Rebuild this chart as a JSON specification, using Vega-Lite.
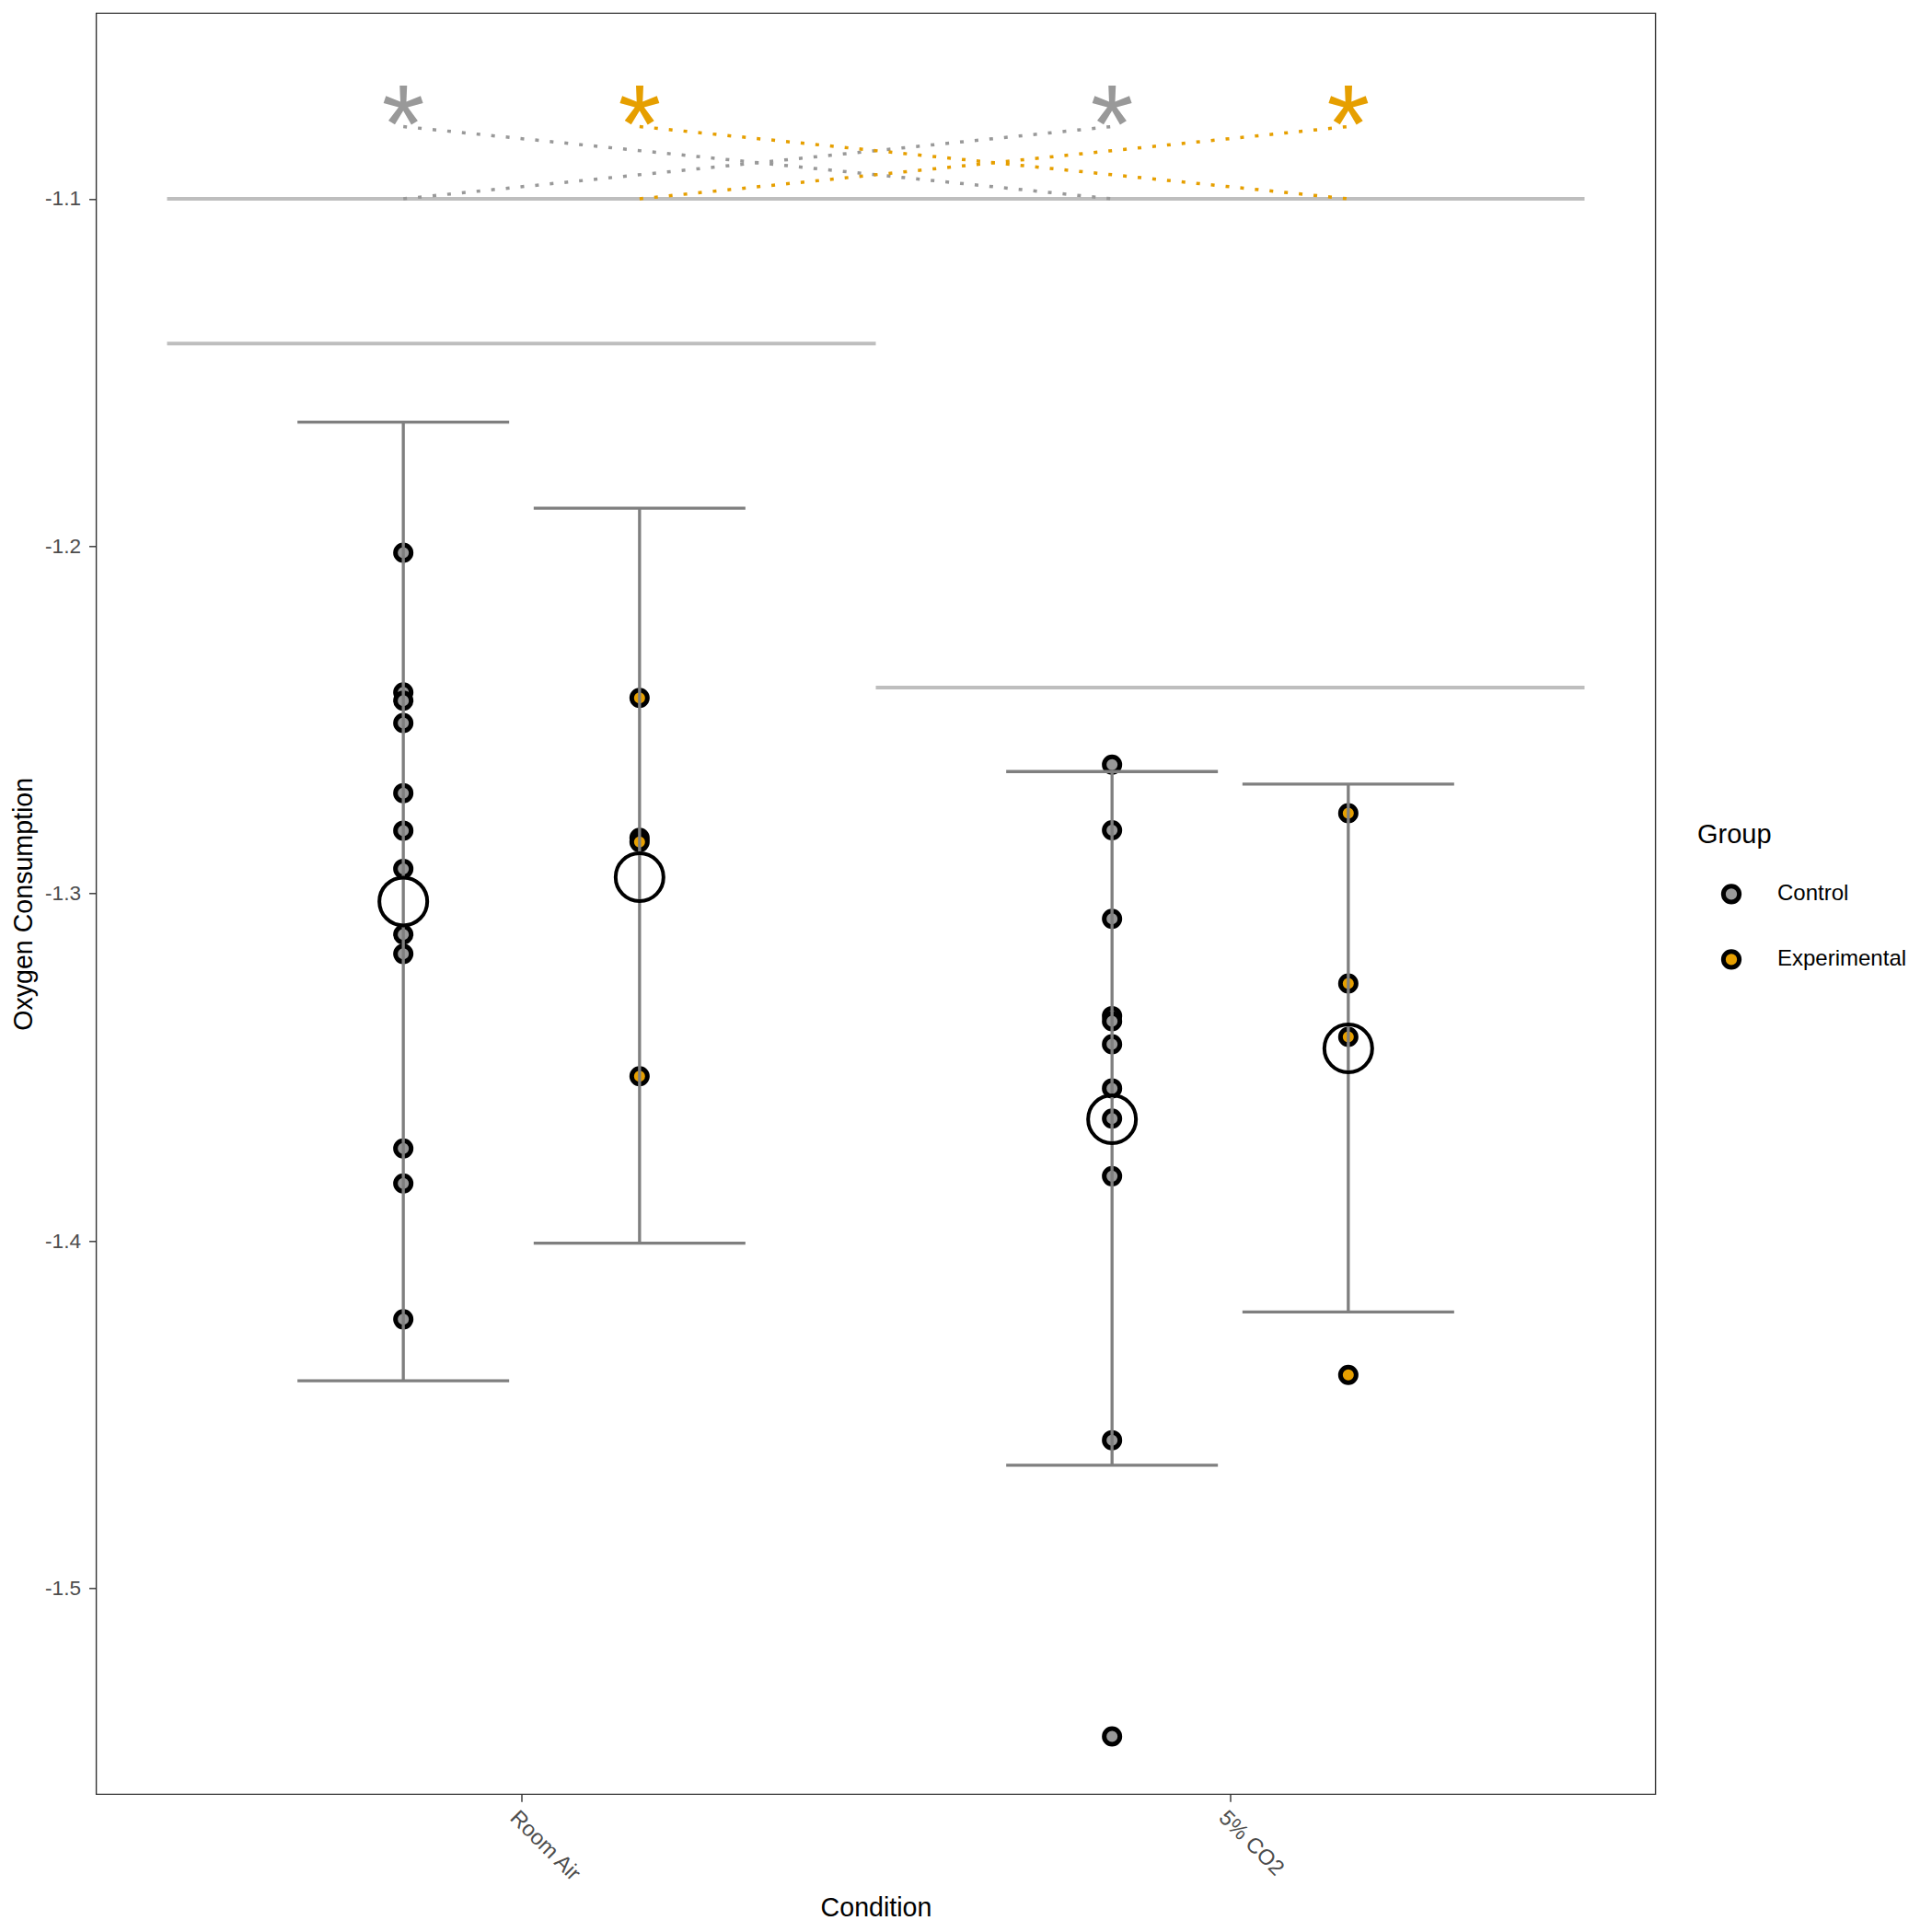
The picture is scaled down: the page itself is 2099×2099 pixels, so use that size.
{
  "$schema": "https://vega.github.io/schema/vega-lite/v6.json",
  "width": 1694,
  "height": 1935,
  "autosize": {"type": "none"},
  "padding": {"left": 104.5, "top": 14.3, "right": 300.5, "bottom": 149.7},
  "background": "white",
  "config": {
    "font": "Liberation Sans",
    "view": {"stroke": "#333333", "strokeWidth": 1.4},
    "axis": {
      "grid": false, "domain": false,
      "tickColor": "#333333", "tickSize": 8, "tickWidth": 1.4,
      "labelFont": "Liberation Sans", "labelFontSize": 22.6, "labelColor": "#4D4D4D",
      "titleFont": "Liberation Sans", "titleFontSize": 28.6, "titleFontWeight": "normal", "titleColor": "black"
    },
    "legend": {
      "titleFont": "Liberation Sans", "titleFontSize": 29, "titleFontWeight": "normal", "titleColor": "black",
      "labelFont": "Liberation Sans", "labelFontSize": 24, "labelColor": "black"
    }
  },
  "datasets": {
    "points": [
      {"Condition": "Room Air", "Group": "Control", "Oxygen": -1.2019},
      {"Condition": "Room Air", "Group": "Control", "Oxygen": -1.2421},
      {"Condition": "Room Air", "Group": "Control", "Oxygen": -1.2445},
      {"Condition": "Room Air", "Group": "Control", "Oxygen": -1.2509},
      {"Condition": "Room Air", "Group": "Control", "Oxygen": -1.2711},
      {"Condition": "Room Air", "Group": "Control", "Oxygen": -1.2819},
      {"Condition": "Room Air", "Group": "Control", "Oxygen": -1.2929},
      {"Condition": "Room Air", "Group": "Control", "Oxygen": -1.3118},
      {"Condition": "Room Air", "Group": "Control", "Oxygen": -1.3174},
      {"Condition": "Room Air", "Group": "Control", "Oxygen": -1.3734},
      {"Condition": "Room Air", "Group": "Control", "Oxygen": -1.3835},
      {"Condition": "Room Air", "Group": "Control", "Oxygen": -1.4226},
      {"Condition": "Room Air", "Group": "Experimental", "Oxygen": -1.2437},
      {"Condition": "Room Air", "Group": "Experimental", "Oxygen": -1.2840},
      {"Condition": "Room Air", "Group": "Experimental", "Oxygen": -1.2852},
      {"Condition": "Room Air", "Group": "Experimental", "Oxygen": -1.3526},
      {"Condition": "5% CO2", "Group": "Control", "Oxygen": -1.2629},
      {"Condition": "5% CO2", "Group": "Control", "Oxygen": -1.2818},
      {"Condition": "5% CO2", "Group": "Control", "Oxygen": -1.3073},
      {"Condition": "5% CO2", "Group": "Control", "Oxygen": -1.3353},
      {"Condition": "5% CO2", "Group": "Control", "Oxygen": -1.3368},
      {"Condition": "5% CO2", "Group": "Control", "Oxygen": -1.3434},
      {"Condition": "5% CO2", "Group": "Control", "Oxygen": -1.3561},
      {"Condition": "5% CO2", "Group": "Control", "Oxygen": -1.3648},
      {"Condition": "5% CO2", "Group": "Control", "Oxygen": -1.3814},
      {"Condition": "5% CO2", "Group": "Control", "Oxygen": -1.4574},
      {"Condition": "5% CO2", "Group": "Control", "Oxygen": -1.5427},
      {"Condition": "5% CO2", "Group": "Experimental", "Oxygen": -1.2769},
      {"Condition": "5% CO2", "Group": "Experimental", "Oxygen": -1.3259},
      {"Condition": "5% CO2", "Group": "Experimental", "Oxygen": -1.3413},
      {"Condition": "5% CO2", "Group": "Experimental", "Oxygen": -1.4386}
    ],
    "summary": [
      {"Condition": "Room Air", "Group": "Control", "mean": -1.3023, "lo": -1.4403, "hi": -1.1643},
      {"Condition": "Room Air", "Group": "Experimental", "mean": -1.2953, "lo": -1.4007, "hi": -1.1891},
      {"Condition": "5% CO2", "Group": "Control", "mean": -1.3650, "lo": -1.4646, "hi": -1.2649},
      {"Condition": "5% CO2", "Group": "Experimental", "mean": -1.3446, "lo": -1.4205, "hi": -1.2685}
    ],
    "refs": [
      {"Condition": "Room Air", "Condition_end": "5% CO2", "y": -1.1},
      {"Condition": "Room Air", "Condition_end": "Room Air", "y": -1.1417},
      {"Condition": "5% CO2", "Condition_end": "5% CO2", "y": -1.2407}
    ],
    "stars": [
      {"Condition": "Room Air", "Group": "Control", "label": "*", "y": -1.0894},
      {"Condition": "Room Air", "Group": "Experimental", "label": "*", "y": -1.0894},
      {"Condition": "5% CO2", "Group": "Control", "label": "*", "y": -1.0894},
      {"Condition": "5% CO2", "Group": "Experimental", "label": "*", "y": -1.0894}
    ],
    "links": [
      {"id": "c1", "Condition": "Room Air", "Group": "Control", "y": -1.0792},
      {"id": "c1", "Condition": "5% CO2", "Group": "Control", "y": -1.1},
      {"id": "c2", "Condition": "5% CO2", "Group": "Control", "y": -1.0792},
      {"id": "c2", "Condition": "Room Air", "Group": "Control", "y": -1.1},
      {"id": "e1", "Condition": "Room Air", "Group": "Experimental", "y": -1.0792},
      {"id": "e1", "Condition": "5% CO2", "Group": "Experimental", "y": -1.1},
      {"id": "e2", "Condition": "5% CO2", "Group": "Experimental", "y": -1.0792},
      {"id": "e2", "Condition": "Room Air", "Group": "Experimental", "y": -1.1}
    ]
  },
  "layer": [
    {
      "data": {"name": "refs"},
      "mark": {"type": "rule", "color": "#BEBEBE", "strokeWidth": 4},
      "encoding": {
        "x": {
          "field": "Condition", "type": "nominal", "bandPosition": 0, "title": "Condition",
          "scale": {"type": "band", "domain": ["Room Air", "5% CO2"], "paddingInner": 0, "paddingOuter": 0.1},
          "axis": {"labelAngle": 45, "labelAlign": "left", "labelBaseline": "top", "labelPadding": 5, "labelFontSize": 23.5, "titlePadding": 10}
        },
        "x2": {"field": "Condition_end", "bandPosition": 1},
        "y": {
          "field": "y", "type": "quantitative", "title": "Oxygen Consumption",
          "scale": {"domain": [-1.55933, -1.04655], "nice": false, "zero": false},
          "axis": {"values": [-1.5, -1.4, -1.3, -1.2, -1.1], "labelExpr": "replace(format(datum.value, '.1f'), '\u2212', '-')", "labelPadding": 9, "titlePadding": 8}
        }
      }
    },
    {
      "data": {"name": "links"},
      "mark": {"type": "line", "strokeWidth": 3.5, "strokeDash": [4, 12]},
      "encoding": {
        "x": {"field": "Condition", "type": "nominal", "title": "Condition"},
        "xOffset": {"field": "Group", "type": "nominal", "scale": {"type": "band", "domain": ["Control", "Experimental"], "paddingInner": 0, "paddingOuter": 0.5}},
        "y": {"field": "y", "type": "quantitative", "title": "Oxygen Consumption"},
        "stroke": {"condition": {"test": "datum.Group === 'Control'", "value": "#999999"}, "value": "#E69F00"},
        "detail": {"field": "id", "type": "nominal"}
      }
    },
    {
      "data": {"name": "stars"},
      "mark": {"type": "text", "fontSize": 120, "font": "Liberation Sans", "align": "center", "baseline": "alphabetic"},
      "encoding": {
        "x": {"field": "Condition", "type": "nominal", "title": "Condition"},
        "xOffset": {"field": "Group", "type": "nominal"},
        "y": {"field": "y", "type": "quantitative", "title": "Oxygen Consumption"},
        "text": {"field": "label"},
        "fill": {"condition": {"test": "datum.Group === 'Control'", "value": "#999999"}, "value": "#E69F00"}
      }
    },
    {
      "data": {"name": "points"},
      "mark": {"type": "point", "filled": true, "shape": "circle", "size": 290, "stroke": "black", "strokeWidth": 5, "opacity": 1},
      "encoding": {
        "x": {"field": "Condition", "type": "nominal", "title": "Condition"},
        "xOffset": {"field": "Group", "type": "nominal"},
        "y": {"field": "Oxygen", "type": "quantitative", "title": "Oxygen Consumption"},
        "color": {
          "field": "Group", "type": "nominal", "title": "Group",
          "scale": {"domain": ["Control", "Experimental"], "range": ["#999999", "#E69F00"]},
          "legend": {
            "orient": "none", "legendX": 1739.5, "legendY": 879, "padding": 0,
            "titlePadding": 37, "symbolType": "circle", "symbolSize": 300,
            "symbolStrokeColor": "black", "symbolStrokeWidth": 5,
            "symbolOffset": 25, "labelOffset": 38, "rowPadding": 33
          }
        }
      }
    },
    {
      "data": {"name": "summary"},
      "mark": {"type": "rule", "color": "#7F7F7F", "strokeWidth": 3.3},
      "encoding": {
        "x": {"field": "Condition", "type": "nominal", "title": "Condition"},
        "xOffset": {"field": "Group", "type": "nominal"},
        "y": {"field": "lo", "type": "quantitative", "title": "Oxygen Consumption"},
        "y2": {"field": "hi"}
      }
    },
    {
      "data": {"name": "summary"},
      "mark": {"type": "tick", "orient": "horizontal", "size": 230, "thickness": 3.3, "color": "#7F7F7F", "opacity": 1},
      "encoding": {
        "x": {"field": "Condition", "type": "nominal", "title": "Condition"},
        "xOffset": {"field": "Group", "type": "nominal"},
        "y": {"field": "lo", "type": "quantitative", "title": "Oxygen Consumption"}
      }
    },
    {
      "data": {"name": "summary"},
      "mark": {"type": "tick", "orient": "horizontal", "size": 230, "thickness": 3.3, "color": "#7F7F7F", "opacity": 1},
      "encoding": {
        "x": {"field": "Condition", "type": "nominal", "title": "Condition"},
        "xOffset": {"field": "Group", "type": "nominal"},
        "y": {"field": "hi", "type": "quantitative", "title": "Oxygen Consumption"}
      }
    },
    {
      "data": {"name": "summary"},
      "mark": {"type": "point", "filled": false, "shape": "circle", "size": 2704, "stroke": "black", "strokeWidth": 4, "opacity": 1},
      "encoding": {
        "x": {"field": "Condition", "type": "nominal", "title": "Condition"},
        "xOffset": {"field": "Group", "type": "nominal"},
        "y": {"field": "mean", "type": "quantitative", "title": "Oxygen Consumption"}
      }
    }
  ]
}
